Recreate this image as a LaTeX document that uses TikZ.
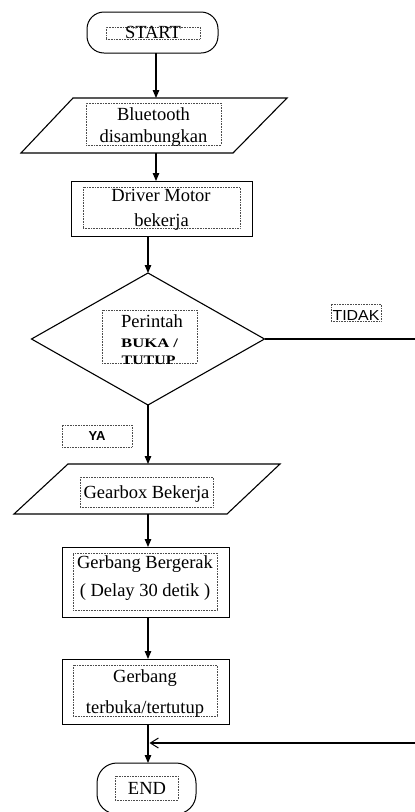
\documentclass[tikz,border=0pt]{standalone}
\usepackage{fontspec}
\setmainfont{Liberation Serif}
\newfontfamily\arialfont{Liberation Sans}
\usetikzlibrary{shapes.geometric,arrows.meta,fit}
\newcommand{\mainsz}{\fontsize{18.5pt}{22pt}\selectfont}
\newcommand{\smallbold}{\fontsize{13pt}{15pt}\selectfont\bfseries}
\tikzset{
  base/.style={draw, line width=1pt, inner sep=0pt, outer sep=0pt},
  procbox/.style={base, rectangle},
  termbox/.style={base, rectangle, rounded corners=17pt},
  iohold/.style={rectangle, inner sep=0pt, outer sep=0pt},
  ioline/.style={line width=1.1pt, line join=miter},
  decbox/.style={base, diamond},
  tbox/.style={draw=black!70, densely dotted, line width=0.6pt, inner sep=0pt, rectangle},
  txt/.style={font=\mainsz, anchor=base, inner sep=0pt},
  sanstxt/.style={font=\arialfont, anchor=base, inner sep=0pt},
  arr/.style={line width=1.1pt, -{Triangle[length=8pt,width=6.5pt]}},
  ln/.style={line width=1.1pt},
  openarr/.style={line width=1.1pt, -{Straight Barb[length=8pt,width=10pt,line width=1pt]}}
}
\begin{document}
\begin{tikzpicture}[x=1pt,y=-1pt]
\useasboundingbox (0,0) rectangle (415,812);
\clip (0,0) rectangle (415,812);

% axes
\coordinate (axA) at (156,0);
\coordinate (axB) at (148,0);

% START
\node[termbox, fit={(87,12) (218,53)}] (start) {};
\node[tbox, fit={(106,27) (200,39)}] (bStart) {};
\node[txt] (tStart) at (153,38.5) {START};

% Bluetooth (parallelogram)
\node[iohold, fit={(21,98) (287,153)}] (bt) {};
\draw[ioline] (21,153) -- (73,98) -- (287,98) -- (233,153) -- cycle;
\node[tbox, fit={(86,103) (221,145)}] (bBt) {};
\node[txt] (tBt1) at (153.5,120) {Bluetooth};
\node[txt] (tBt2) at (153.5,142.5) {disambungkan};

% Driver Motor
\node[procbox, fit={(71,181) (252,236)}] (drv) {};
\node[tbox, fit={(83,187) (240,228)}] (bDrv) {};
\node[txt] (tDrv1) at (161,201.5) {Driver Motor};
\node[txt] (tDrv2) at (161.5,226.5) {bekerja};

% Decision
\node[decbox, line width=1.1pt, minimum width=233pt, minimum height=132pt] (dec) at (148,339) {};
\node[tbox, fit={(102,310) (197,363)}] (bDec) {};
\node[txt, anchor=base west] (tDec1) at (121,327) {Perintah};
\node[anchor=base west, inner sep=0pt] (tDec2) at (121,347) {\scalebox{1.28}[1]{\smallbold BUKA /}};
\node[anchor=base west, inner sep=0pt] (tDec3) at (121.5,364) {\scalebox{1.22}[1]{\smallbold TUTUP}};

% TIDAK label
\node[tbox, fit={(331,304) (381,321)}] (bTidak) {};
\node[sanstxt] (tTidak) at (356,320) {\scalebox{1.1}[1]{\arialfont\fontsize{14.5pt}{16pt}\selectfont TIDAK}};

% YA label
\node[tbox, fit={(62,425) (132,447)}] (bYa) {};
\node[sanstxt, font=\arialfont\fontsize{13pt}{15pt}\selectfont\bfseries] (tYa) at (97,440) {YA};

% Gearbox (parallelogram)
\node[iohold, fit={(14,464) (280,514)}] (gb) {};
\draw[ioline] (14,514) -- (68,464) -- (280,464) -- (227,514) -- cycle;
\node[tbox, fit={(80,477) (213,507)}] (bGb) {};
\node[txt] (tGb) at (146.5,498) {Gearbox Bekerja};

% Gerbang Bergerak
\node[procbox, fit={(62,547) (229,617)}] (gg) {};
\node[tbox, fit={(73,553) (217,610)}] (bGg) {};
\node[txt] (tGg1) at (145,568) {Gerbang Bergerak};
\node[txt] (tGg2) at (145,596) {( Delay 30 detik )};

% Gerbang terbuka
\node[procbox, fit={(62,659) (229,724)}] (gt) {};
\node[tbox, fit={(73,665) (217,716)}] (bGt) {};
\node[txt] (tGt1) at (145,682) {Gerbang};
\node[txt] (tGt2) at (145,713) {terbuka/tertutup};

% END
\node[termbox, rounded corners=20pt, fit={(97,763) (196,814)}] (endn) {};
\node[tbox, fit={(115,776) (178,800)}] (bEnd) {};
\node[txt] (tEnd) at (147,794) {END};

% connectors
\draw[arr] (start.south -| axA) -- (bt.north -| axA);
\draw[arr] (bt.south -| axA) -- (drv.north -| axA);
\draw[arr] (drv.south -| axB) -- (dec.north);
\draw[arr] (dec.south) -- (dec.south |- gb.north);
\draw[arr] (gb.south -| axB) -- (gg.north -| axB);
\draw[arr] (gg.south -| axB) -- (gt.north -| axB);
\draw[arr] (gt.south -| axB) -- (endn.north -| axB);

\coordinate (tidakEnd) at (415,339);
\draw[ln] (dec.east) -- (tidakEnd);
\coordinate (retStart) at (415,743);
\coordinate (retEnd) at (149.5,743);
\draw[openarr] (retStart) -- (retEnd);
\end{tikzpicture}
\end{document}
